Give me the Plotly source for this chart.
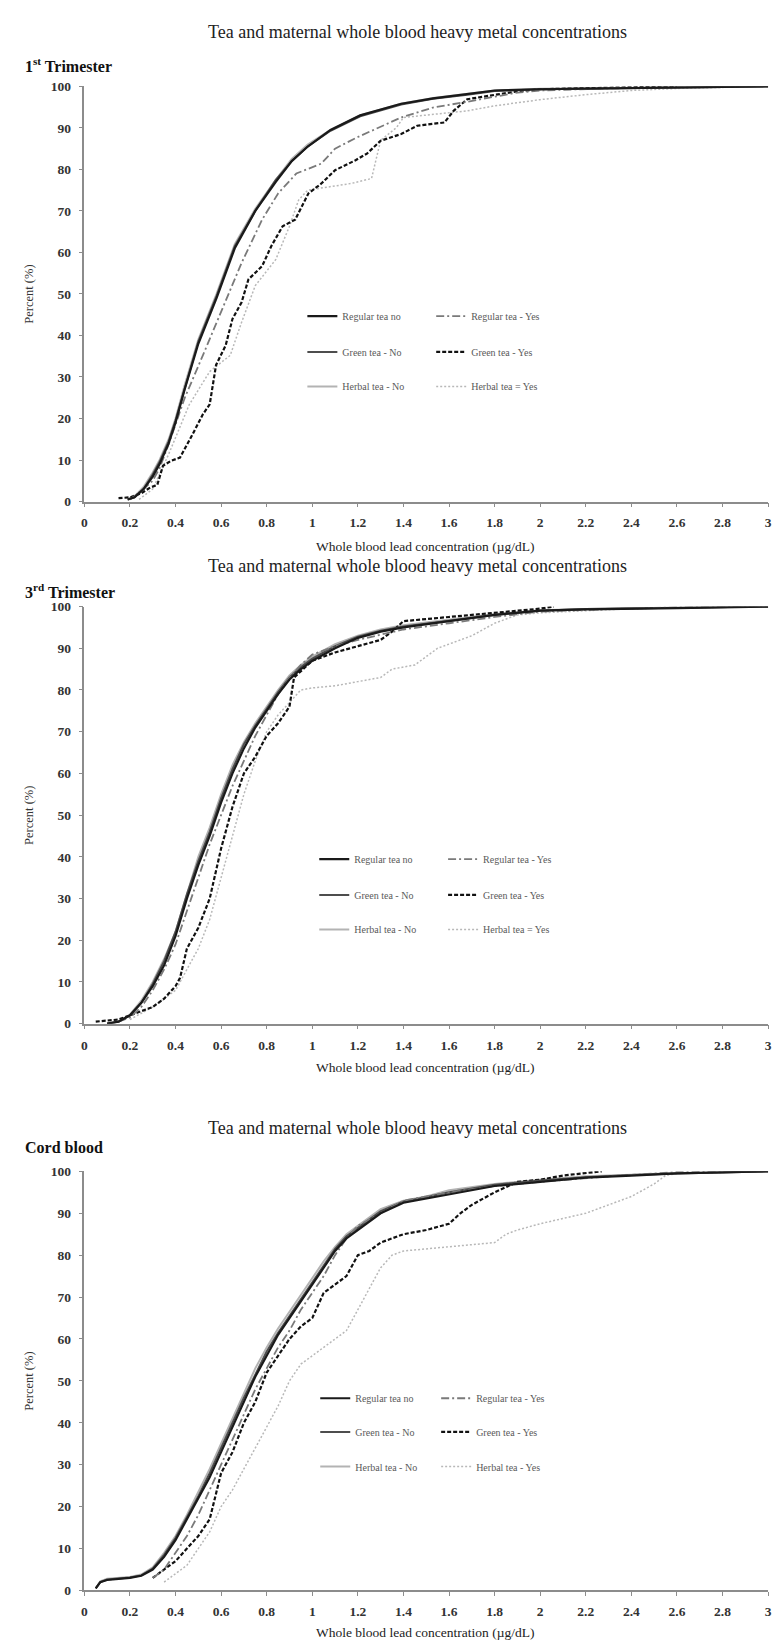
import plotly.graph_objects as go

W, H = 780, 1642

# ---------------- DATA ----------------
panel_labels = ["1<sup>st</sup> Trimester", "3<sup>rd</sup> Trimester", "Cord blood"]
main_title = "Tea and maternal whole blood heavy metal concentrations"
x_title = "Whole blood lead concentration (µg/dL)"
y_title = "Percent (%)"
series_names = ["Regular tea no", "Regular tea - Yes", "Green tea - No",
                "Green tea - Yes", "Herbal tea - No", "Herbal tea = Yes"]
series_names_cord = ["Regular tea no", "Regular tea - Yes", "Green tea - No",
                     "Green tea - Yes", "Herbal tea - No", "Herbal tea - Yes"]
x_tick_vals = [0, 0.2, 0.4, 0.6, 0.8, 1, 1.2, 1.4, 1.6, 1.8, 2, 2.2, 2.4, 2.6, 2.8, 3]
x_tick_text = ["0", "0.2", "0.4", "0.6", "0.8", "1", "1.2", "1.4", "1.6", "1.8",
               "2", "2.2", "2.4", "2.6", "2.8", "3"]
y_tick_vals = [0, 10, 20, 30, 40, 50, 60, 70, 80, 90, 100]

# 1st trimester
t1_no_x = [0.19, 0.22, 0.26, 0.3, 0.33, 0.37, 0.4, 0.44, 0.5, 0.58, 0.66, 0.75, 0.84, 0.91,
           0.98, 1.08, 1.21, 1.39, 1.53, 1.68, 1.8, 2.0, 2.3, 2.6, 3.0]
t1_reg_no_y = [0.5, 1, 3, 6, 9, 14, 19, 27, 38, 49, 61, 70, 77, 82, 85.5, 89.5, 93, 95.8,
               97.1, 98.1, 99, 99.3, 99.5, 99.7, 100]
t1_green_no_y = [0.5, 1, 3, 6.5, 9.5, 14.5, 19.5, 27, 38.5, 49.5, 61.5, 70, 77.5, 82, 85.5,
                 89.3, 92.8, 95.6, 97, 98, 98.9, 99.3, 99.5, 99.8, 100]
t1_herbal_no_y = [0.5, 1.2, 3.5, 7, 10, 15, 20, 28, 39, 50, 62, 70.5, 77.5, 82.5, 86, 89.5,
                  93, 95.8, 97.2, 98.2, 99, 99.4, 99.6, 99.8, 100]
t1_reg_yes_x = [0.2, 0.26, 0.3, 0.33, 0.37, 0.44, 0.52, 0.61, 0.69, 0.78, 0.85, 0.93, 1.04,
                1.1, 1.2, 1.39, 1.53, 1.66, 1.8, 1.9, 2.0, 2.3, 2.6, 3.0]
t1_reg_yes_y = [0.5, 3, 5, 8, 13.8, 24.9, 35.2, 47.2, 57.5, 67.9, 74.2, 79, 81.4, 85, 87.8,
                92.5, 94.9, 96.1, 97.5, 98.5, 99, 99.5, 99.8, 100]
t1_green_yes_x = [0.15, 0.2, 0.25, 0.29, 0.32, 0.345, 0.38, 0.42, 0.475, 0.52, 0.55, 0.578,
                  0.62, 0.65, 0.69, 0.72, 0.78, 0.82, 0.87, 0.925, 0.983, 1.04, 1.1, 1.19,
                  1.24, 1.3, 1.39, 1.46, 1.58, 1.62, 1.68, 1.8, 1.9, 2.0, 2.3, 2.6]
t1_green_yes_y = [0.8, 1, 2, 3.4, 4, 8.6, 9.8, 10.6, 16.2, 21, 23.4, 32.9, 37.6, 44, 48,
                  53.5, 56.7, 61.5, 66.3, 67.9, 74.2, 76.6, 79.8, 82.2, 83.8, 86.9, 88.5,
                  90.5, 91.3, 94.1, 96.9, 98, 98.8, 99.3, 99.6, 100]
t1_herbal_yes_x = [0.24, 0.3, 0.37, 0.46, 0.55, 0.64, 0.69, 0.75, 0.84, 0.9, 0.94, 0.98,
                   1.17, 1.26, 1.3, 1.37, 1.4, 1.68, 1.8, 2.0, 2.2, 2.4, 2.6, 2.9, 3.0]
t1_herbal_yes_y = [0.5, 3, 11.4, 23.3, 31.3, 35.2, 43.2, 52, 58.3, 66.3, 72.6, 75, 76.6,
                   77.8, 87, 90.1, 92.5, 94.1, 95.3, 96.8, 98, 99, 99.5, 99.9, 100]

# 3rd trimester
t3_no_x = [0.1, 0.15, 0.2, 0.25, 0.3, 0.35, 0.4, 0.45, 0.5, 0.55, 0.6, 0.65, 0.7, 0.75,
           0.8, 0.85, 0.9, 0.95, 1.0, 1.1, 1.2, 1.3, 1.4, 1.6, 1.8, 2.0, 2.2, 2.6, 3.0]
t3_reg_no_y = [0, 0.5, 2, 5, 9, 14, 21, 30, 38, 45, 53, 60, 66, 71, 75, 79, 82.5, 85, 87,
               90, 92.5, 94, 95, 96.5, 98, 99, 99.3, 99.6, 100]
t3_green_no_y = [0, 0.5, 2, 5, 9.5, 15, 22, 31, 39, 46, 54, 61, 67, 71.5, 75.5, 79.5, 83,
                 85.5, 87.5, 90.5, 92.8, 94.2, 95.2, 96.6, 98, 99, 99.4, 99.7, 100]
t3_herbal_no_y = [0, 0.5, 2.2, 5.5, 10, 15.5, 22, 31, 40, 47, 55, 62, 67.5, 72, 76, 80,
                  83.5, 86, 88, 91, 93, 94.5, 95.5, 96.8, 98.2, 99.1, 99.4, 99.7, 100]
t3_reg_yes_x = [0.15, 0.2, 0.25, 0.3, 0.35, 0.4, 0.45, 0.5, 0.55, 0.6, 0.65, 0.7, 0.75,
                0.8, 0.85, 0.9, 0.95, 1.0, 1.1, 1.2, 1.4, 1.6, 1.8, 2.0, 2.3, 2.6, 3.0]
t3_reg_yes_y = [0.5, 1.5, 4, 8, 13, 19, 27, 35, 43, 50, 57, 63, 69, 74, 79, 83, 86, 88.5,
                90.5, 92, 94.5, 96, 97.5, 98.8, 99.4, 99.8, 100]
t3_green_yes_x = [0.05, 0.15, 0.2, 0.3, 0.35, 0.4, 0.42, 0.45, 0.5, 0.55, 0.6, 0.65, 0.7,
                  0.75, 0.8, 0.85, 0.9, 0.92, 1.0, 1.1, 1.2, 1.3, 1.35, 1.4, 1.6, 1.8,
                  2.0, 2.06]
t3_green_yes_y = [0.5, 1, 2, 4, 6, 9, 11, 18, 23, 30, 42, 52, 60, 64, 69, 72, 76, 83, 87,
                  89, 90.5, 92, 94, 96.5, 97.5, 98.5, 99.5, 100]
t3_herbal_yes_x = [0.2, 0.3, 0.4, 0.45, 0.5, 0.55, 0.6, 0.65, 0.7, 0.75, 0.8, 0.85, 0.9,
                   0.95, 1.0, 1.1, 1.2, 1.3, 1.35, 1.45, 1.5, 1.55, 1.6, 1.7, 1.8, 1.9,
                   2.0, 2.4, 3.0]
t3_herbal_yes_y = [1, 4, 8, 13, 18, 25, 35, 45, 55, 63, 70, 74, 77, 80, 80.5, 81, 82, 83,
                   85, 86, 88, 90, 91, 93, 96, 98, 98.5, 99.5, 100]

# cord blood
cb_no_x = [0.05, 0.07, 0.1, 0.15, 0.2, 0.25, 0.3, 0.35, 0.4, 0.45, 0.5, 0.55, 0.6, 0.65,
           0.7, 0.75, 0.8, 0.85, 0.9, 0.95, 1.0, 1.05, 1.1, 1.15, 1.2, 1.3, 1.4, 1.5, 1.6,
           1.8, 2.0, 2.2, 2.4, 2.6, 3.0]
cb_reg_no_y = [0.5, 2, 2.5, 2.8, 3, 3.5, 5, 8, 12, 17, 22, 27, 33, 39, 45, 51, 56, 61, 65,
               69, 73, 77, 81, 84, 86, 90, 92.5, 93.5, 94.5, 96.5, 97.5, 98.5, 99, 99.5, 100]
cb_green_no_y = [0.5, 2, 2.6, 2.9, 3.1, 3.6, 5.2, 8.5, 12.5, 17.5, 22.5, 28, 34, 40, 46,
                 51.5, 57, 61.5, 65.5, 69.5, 73.5, 77.5, 81.5, 84.5, 86.5, 90.5, 92.8,
                 93.8, 95, 96.8, 97.8, 98.6, 99.1, 99.5, 100]
cb_herbal_no_y = [0.5, 2.2, 2.8, 3, 3.2, 3.8, 5.5, 9, 13, 18, 23.5, 29, 35, 41, 47, 53, 58,
                  62.5, 66.5, 70.5, 74.5, 78.5, 82, 85, 87, 91, 93, 94, 95.5, 97, 98,
                  98.8, 99.2, 99.6, 100]
cb_reg_yes_x = [0.3, 0.35, 0.4, 0.45, 0.5, 0.55, 0.6, 0.65, 0.7, 0.75, 0.8, 0.85, 0.9,
                0.95, 1.0, 1.05, 1.1, 1.15, 1.2, 1.3, 1.4, 1.6, 1.8, 2.0, 2.3, 2.6, 3.0]
cb_reg_yes_y = [3, 5, 9, 13, 18, 24, 30, 36, 42, 48, 53, 58, 62, 67, 71, 75, 80, 84, 87,
                90, 93, 95, 96.5, 97.5, 98.8, 99.8, 100]
cb_green_yes_x = [0.3, 0.35, 0.4, 0.45, 0.5, 0.55, 0.6, 0.65, 0.7, 0.75, 0.8, 0.85, 0.9,
                  0.95, 1.0, 1.05, 1.1, 1.15, 1.2, 1.25, 1.3, 1.4, 1.5, 1.6, 1.65, 1.7,
                  1.8, 1.9, 2.0, 2.1, 2.27]
cb_green_yes_y = [3, 5, 7, 10, 13, 17, 28, 33, 40, 45, 52, 56, 60, 63, 65, 71, 73, 75, 80,
                  81, 83, 85, 86, 87.5, 90, 92, 95, 97.5, 98, 99, 100]
cb_herbal_yes_x = [0.35, 0.4, 0.45, 0.5, 0.55, 0.6, 0.65, 0.7, 0.75, 0.8, 0.85, 0.9, 0.95,
                   1.0, 1.05, 1.1, 1.15, 1.2, 1.25, 1.3, 1.35, 1.4, 1.6, 1.8, 1.85, 1.9,
                   2.0, 2.2, 2.3, 2.4, 2.5, 2.55, 2.6, 3.0]
cb_herbal_yes_y = [2, 4, 6, 10, 14, 20, 24, 29, 34, 39, 44, 50, 54, 56, 58, 60, 62, 67, 72,
                   77, 80, 81, 82, 83, 85, 86, 87.5, 90, 92, 94, 97, 99, 99.5, 100]

# ---------------- LAYOUT GEOMETRY (px) ----------------
def fx(px):
    return px / W

def fy(py):
    return 1 - py / H

plot_left, plot_right = 74, 764
panels = [
    dict(top=72, bottom=491, title=17, sub=50, xt=536, leg_rows=[304, 340, 375],
         leg_cols=[307, 437]),
    dict(top=597, bottom=1018, title=556, sub=581, xt=1062, leg_rows=[852, 888, 923],
         leg_cols=[319, 449]),
    dict(top=1167, bottom=1590, title=1123, sub=1143, xt=1632, leg_rows=[1396, 1430, 1465],
         leg_cols=[320, 442]),
]

styles = [
    dict(color="#1a1a1a", width=2.2, dash="solid"),            # regular no
    dict(color="#7a7a7a", width=1.8, dash="8px,3px,2px,3px"),  # regular yes
    dict(color="#4d4d4d", width=2.0, dash="solid"),            # green no
    dict(color="#111111", width=2.2, dash="4px,2px"),          # green yes
    dict(color="#b3b3b3", width=2.0, dash="solid"),            # herbal no
    dict(color="#b8b8b8", width=1.5, dash="2px,2px"),          # herbal yes
]

panel_series = [
    [(t1_no_x, t1_reg_no_y), (t1_reg_yes_x, t1_reg_yes_y), (t1_no_x, t1_green_no_y),
     (t1_green_yes_x, t1_green_yes_y), (t1_no_x, t1_herbal_no_y), (t1_herbal_yes_x, t1_herbal_yes_y)],
    [(t3_no_x, t3_reg_no_y), (t3_reg_yes_x, t3_reg_yes_y), (t3_no_x, t3_green_no_y),
     (t3_green_yes_x, t3_green_yes_y), (t3_no_x, t3_herbal_no_y), (t3_herbal_yes_x, t3_herbal_yes_y)],
    [(cb_no_x, cb_reg_no_y), (cb_reg_yes_x, cb_reg_yes_y), (cb_no_x, cb_green_no_y),
     (cb_green_yes_x, cb_green_yes_y), (cb_no_x, cb_herbal_no_y), (cb_herbal_yes_x, cb_herbal_yes_y)],
]
panel_names = [series_names, series_names, series_names_cord]

fig = go.Figure()
draw_order = [5, 4, 3, 2, 1, 0]
layout = dict(width=W, height=H, margin=dict(l=0, r=0, t=0, b=0),
              paper_bgcolor="white", plot_bgcolor="white", annotations=[])

serif = "Liberation Serif"
axis_col = "#8c8c8c"
for p, geo in enumerate(panels):
    sfx = "" if p == 0 else str(p + 1)
    xa, ya = "x" + sfx, "y" + sfx
    for k in draw_order:
        xs, ys = panel_series[p][k]
        st = styles[k]
        row, col = k // 2, k % 2
        legname = "legend" + ("" if (p * 6 + k) == 0 else str(p * 6 + k + 1))
        fig.add_trace(go.Scatter(
            x=xs, y=ys, mode="lines", name=panel_names[p][k],
            line=dict(color=st["color"], width=st["width"], dash=st["dash"]),
            xaxis=xa, yaxis=ya, legend=legname, showlegend=True))
        layout[legname] = dict(
            x=fx(geo["leg_cols"][col] - 13), y=fy(geo["leg_rows"][row]),
            xanchor="left", yanchor="middle", bgcolor="rgba(0,0,0,0)",
            borderwidth=0, itemwidth=30,
            font=dict(family=serif, size=10, color="#5a5a5a"))
    layout["xaxis" + sfx] = dict(
        domain=[fx(plot_left), fx(plot_right)], anchor=ya, range=[0, 3],
        tickvals=x_tick_vals, ticktext=x_tick_text, showgrid=False, zeroline=False,
        showline=True, linecolor=axis_col, linewidth=1.5, ticks="outside", ticklen=4,
        tickcolor=axis_col, tickwidth=1, ticklabelstandoff=4,
        tickfont=dict(family=serif, size=13.5, color="#333333", weight="bold"))
    layout["yaxis" + sfx] = dict(
        domain=[fy(geo["bottom"]), fy(geo["top"])], anchor=xa, range=[0, 100],
        tickvals=y_tick_vals, showgrid=False, zeroline=False,
        showline=True, linecolor=axis_col, linewidth=1.5, ticks="outside", ticklen=4,
        tickcolor=axis_col, tickwidth=1, ticklabelstandoff=5,
        tickfont=dict(family=serif, size=13.5, color="#333333", weight="bold"))
    layout["annotations"] += [
        dict(text=main_title, x=fx(410), y=fy(geo["title"]), xref="paper", yref="paper",
             showarrow=False, xanchor="center", yanchor="middle",
             font=dict(family=serif, size=18, color="#222222")),
        dict(text="<b>" + panel_labels[p] + "</b>", x=fx(12), y=fy(geo["sub"]),
             xref="paper", yref="paper", showarrow=False, xanchor="left",
             yanchor="middle", font=dict(family=serif, size=16, color="#111111")),
        dict(text=x_title, x=fx(418), y=fy(geo["xt"]), xref="paper", yref="paper",
             showarrow=False, xanchor="center", yanchor="middle",
             font=dict(family=serif, size=13.5, color="#222222")),
        dict(text=y_title, x=fx(18), y=fy((geo["top"] + geo["bottom"]) / 2),
             xref="paper", yref="paper", showarrow=False, textangle=-90,
             xanchor="center", yanchor="middle",
             font=dict(family=serif, size=12.5, color="#333333")),
    ]

fig.update_layout(**layout)
fig.write_html("out.html")
